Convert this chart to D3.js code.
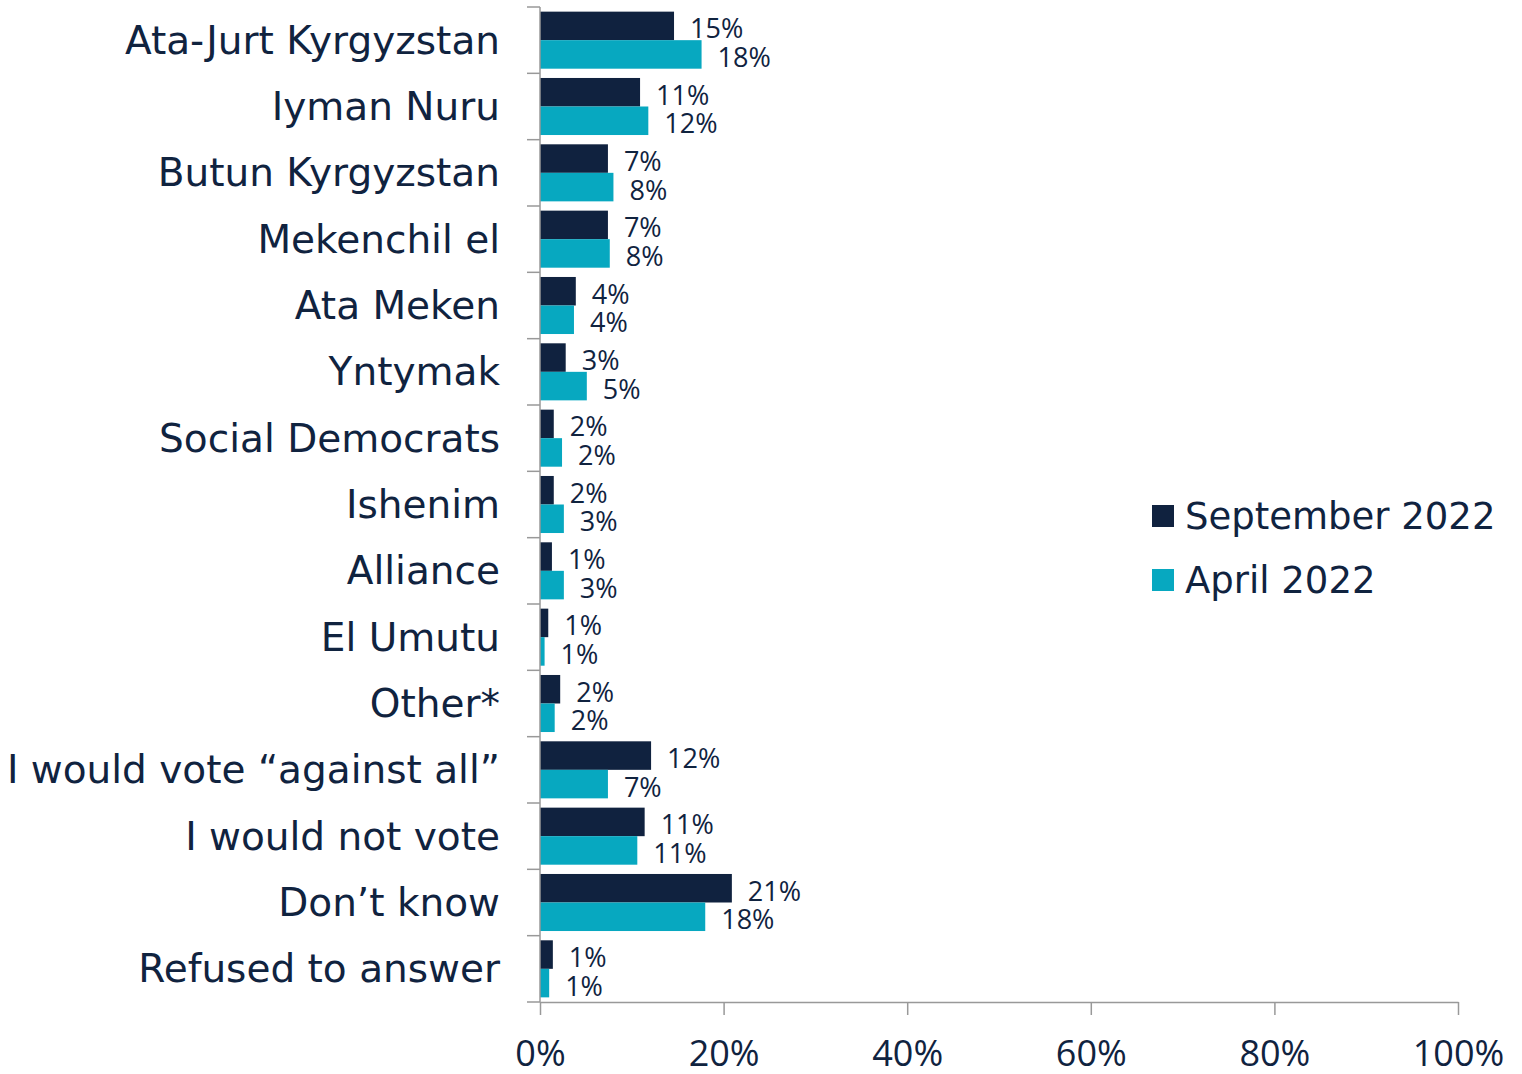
<!DOCTYPE html>
<html>
<head>
<meta charset="utf-8">
<script src="https://cdn.jsdelivr.net/npm/d3@7"></script>
<style>
  body { margin: 0; background: #fff; }
  text { font-family: "Open Sans", sans-serif; fill: #10233f; }
  text.cat, .legend text { font-family: "DejaVu Sans", sans-serif; }
</style>
</head>
<body>
<div id="chart"></div>
<script>
  const categories = [
    "Ata-Jurt Kyrgyzstan", "Iyman Nuru", "Butun Kyrgyzstan", "Mekenchil el",
    "Ata Meken", "Yntymak", "Social Democrats", "Ishenim", "Alliance",
    "El Umutu", "Other*", "I would vote \u201cagainst all\u201d", "I would not vote",
    "Don\u2019t know", "Refused to answer"
  ];
  const series = ["September 2022", "April 2022"];
  const september = [14.6, 10.9, 7.4, 7.4, 3.9, 2.8, 1.5, 1.5, 1.3, 0.9, 2.2, 12.1, 11.4, 20.9, 1.4];
  const april = [17.6, 11.8, 8.0, 7.6, 3.7, 5.1, 2.4, 2.6, 2.6, 0.5, 1.6, 7.4, 10.6, 18.0, 1.0];
  const xTicks = [0, 20, 40, 60, 80, 100];
  const colors = ["#10223f", "#07a8c0"];

  const width = 1522, height = 1074;
  const svg = d3.select("#chart").append("svg")
    .attr("width", width).attr("height", height);

  const x = d3.scaleLinear().domain([0, 100]).range([540, 1458]);
  const y = d3.scaleBand().domain(categories).range([7, 1002]);
  const pad = y.bandwidth() * 0.07;
  const y1 = d3.scaleBand().domain(series).range([pad, y.bandwidth() - pad]);

  const rows = categories.map((c, i) => ({ cat: c, vals: [september[i], april[i]] }));

  const g = svg.selectAll("g.row").data(rows).enter().append("g")
    .attr("class", "row")
    .attr("transform", d => `translate(0,${y(d.cat)})`);

  g.selectAll("rect").data(d => d.vals.map((v, j) => ({ s: series[j], v: v, j: j })))
    .enter().append("rect")
    .attr("x", x(0))
    .attr("y", d => y1(d.s))
    .attr("width", d => x(d.v) - x(0))
    .attr("height", y1.bandwidth())
    .attr("fill", d => colors[d.j]);

  g.selectAll("text.val").data(d => d.vals.map((v, j) => ({ s: series[j], v: v, j: j })))
    .enter().append("text")
    .attr("class", "val")
    .attr("x", d => x(d.v) + 16)
    .attr("y", d => y1(d.s) + y1.bandwidth() / 2 + 3)
    .attr("dy", "0.35em")
    .style("font-size", "27px")
    .text(d => Math.round(d.v) + "%");

  // y axis
  const yAxis = svg.append("g").attr("transform", `translate(${x(0)},0)`);
  yAxis.append("line").attr("y1", 7).attr("y2", 1002).attr("stroke", "#999").attr("stroke-width", 1.5);
  yAxis.selectAll("line.tick").data(categories.concat([null])).enter().append("line")
    .attr("x1", -13).attr("x2", 0)
    .attr("y1", (d, i) => i < categories.length ? y(d) : y.range()[1])
    .attr("y2", (d, i) => i < categories.length ? y(d) : y.range()[1])
    .attr("stroke", "#999").attr("stroke-width", 1.5);

  svg.selectAll("text.cat").data(categories).enter().append("text")
    .attr("class", "cat")
    .attr("x", 500)
    .attr("y", d => y(d) + y.bandwidth() / 2)
    .attr("dy", "0.35em")
    .attr("text-anchor", "end")
    .style("font-size", "39px")
    .text(d => d);

  // x axis
  const xAxis = svg.append("g").attr("transform", "translate(0,1002)")
    .call(d3.axisBottom(x).tickValues(xTicks).tickSize(13).tickSizeOuter(0).tickFormat(d => d + "%"));
  xAxis.select(".domain").attr("stroke", "#999").attr("stroke-width", 1.5);
  xAxis.selectAll(".tick line").attr("stroke", "#999").attr("stroke-width", 1.5);
  xAxis.selectAll(".tick text").attr("y", 38).style("font-size", "36px")
    .style("font-family", "'Open Sans', sans-serif").attr("fill", "#10233f");

  // legend
  const legend = svg.selectAll("g.legend").data(series).enter().append("g")
    .attr("class", "legend")
    .attr("transform", (d, i) => `translate(1152,${505 + i * 64})`);
  legend.append("rect").attr("width", 22).attr("height", 22).attr("fill", (d, i) => colors[i]);
  legend.append("text").attr("x", 33).attr("y", 11).attr("dy", "0.35em")
    .style("font-size", "37px").text(d => d);
</script>
</body>
</html>
